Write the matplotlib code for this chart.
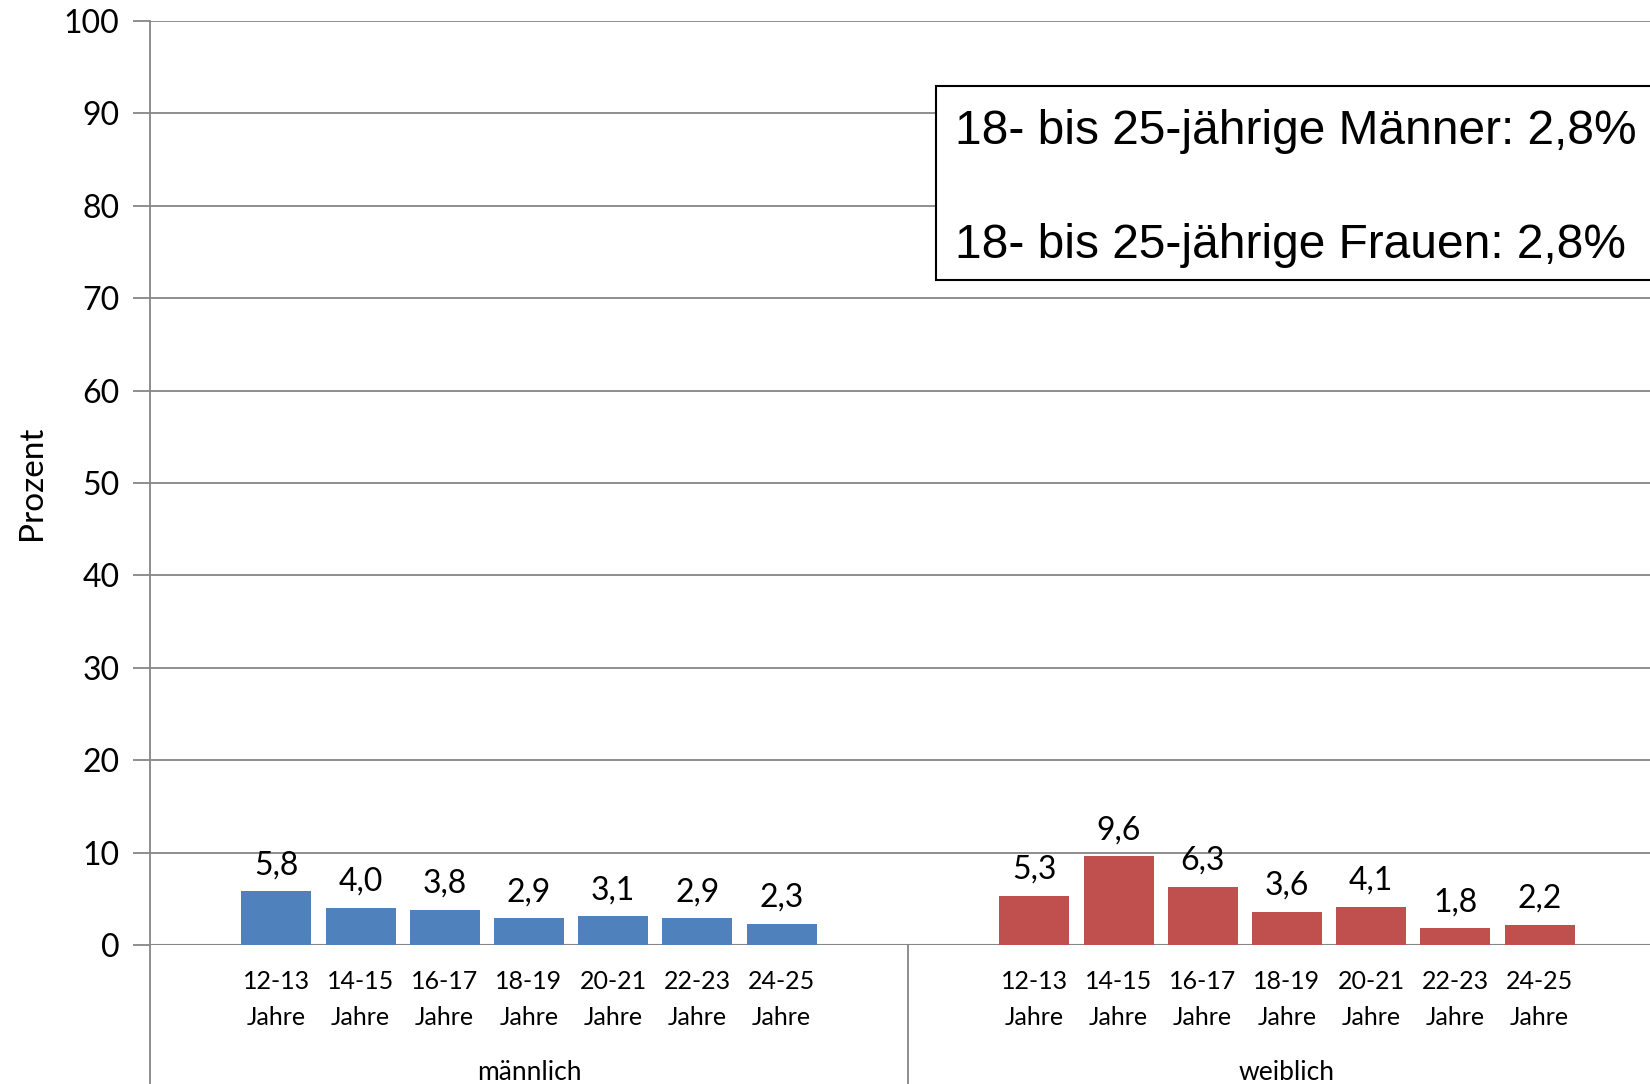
import matplotlib
matplotlib.use("Agg")
import matplotlib.pyplot as plt
from matplotlib.patches import Rectangle
from matplotlib.lines import Line2D

age_groups = ["12-13", "14-15", "16-17", "18-19", "20-21", "22-23", "24-25"]
maennlich = [5.8, 4.0, 3.8, 2.9, 3.1, 2.9, 2.3]
weiblich = [5.3, 9.6, 6.3, 3.6, 4.1, 1.8, 2.2]
groups = ["männlich", "weiblich"]
summary = ["18- bis 25-jährige Männer: 2,8%", "18- bis 25-jährige Frauen: 2,8%"]

BLUE = "#4F81BD"
RED = "#C0504D"
GRID = "#868686"
FONT = "Lato"

W, H = 1650, 1084
fig = plt.figure(figsize=(W / 100, H / 100), dpi=100)
# plot area runs a little past the right border of the figure
ax = fig.add_axes([150 / W, (H - 945) / H, 1516 / W, 924 / H])

# 9 slots per group, bars in the middle seven
xm = [i + 1 for i in range(len(age_groups))]
xw = [i + 10 for i in range(len(age_groups))]

ax.bar(xm, maennlich, width=0.83, color=BLUE, zorder=3)
ax.bar(xw, weiblich, width=0.83, color=RED, zorder=3)

for xs, vals in ((xm, maennlich), (xw, weiblich)):
    for x, v in zip(xs, vals):
        ax.annotate(f"{v:.1f}".replace(".", ","), (x, v), xytext=(0, 8),
                    textcoords="offset points", ha="center", va="bottom",
                    fontsize=23, family=FONT, zorder=4)

ax.set_xlim(-0.5, 17.5)
ax.set_ylim(0, 100)
ax.set_yticks(range(0, 101, 10))
ax.yaxis.grid(True, color=GRID, linewidth=1.3, zorder=0)
ax.tick_params(axis="y", length=12, width=1.3, color=GRID, pad=10,
               labelsize=23)
for lab in ax.get_yticklabels():
    lab.set_family(FONT)

ax.set_xticks(xm + xw)
ax.set_xticklabels([f"{a}\nJahre" for a in age_groups] * 2, family=FONT,
                   fontsize=18, linespacing=1.7)
ax.tick_params(axis="x", length=0, pad=18)

for s in ax.spines.values():
    s.set_visible(False)

# left axis line and group separator reach down to the figure edge
tr = ax.get_xaxis_transform()
ax.add_line(Line2D([-0.5, -0.5], [1.0, -0.2], transform=tr, color=GRID,
                   linewidth=1.3, clip_on=False))
ax.add_line(Line2D([8.5, 8.5], [0.0, -0.2], transform=tr, color=GRID,
                   linewidth=1.3, clip_on=False))
ax.axhline(0, color=GRID, linewidth=1.5, zorder=2)

for g, cx in zip(groups, (4, 13)):
    ax.text(cx, -0.138, g, transform=tr, ha="center", va="center",
            fontsize=19, family=FONT)

ax.set_ylabel("Prozent", fontsize=24, family=FONT, labelpad=12)

# summary box in the upper right
fig.patches.append(Rectangle((936 / W, 1 - 280 / H), 800 / W, 194 / H,
                             transform=fig.transFigure, facecolor="white",
                             edgecolor="black", linewidth=1.5, zorder=5))
for txt, y in zip(summary, (131, 246)):
    fig.text(955 / W, 1 - y / H, txt, ha="left", va="center", fontsize=34.5,
             family="Liberation Sans", zorder=6)

fig.savefig("out.png", dpi=100)
